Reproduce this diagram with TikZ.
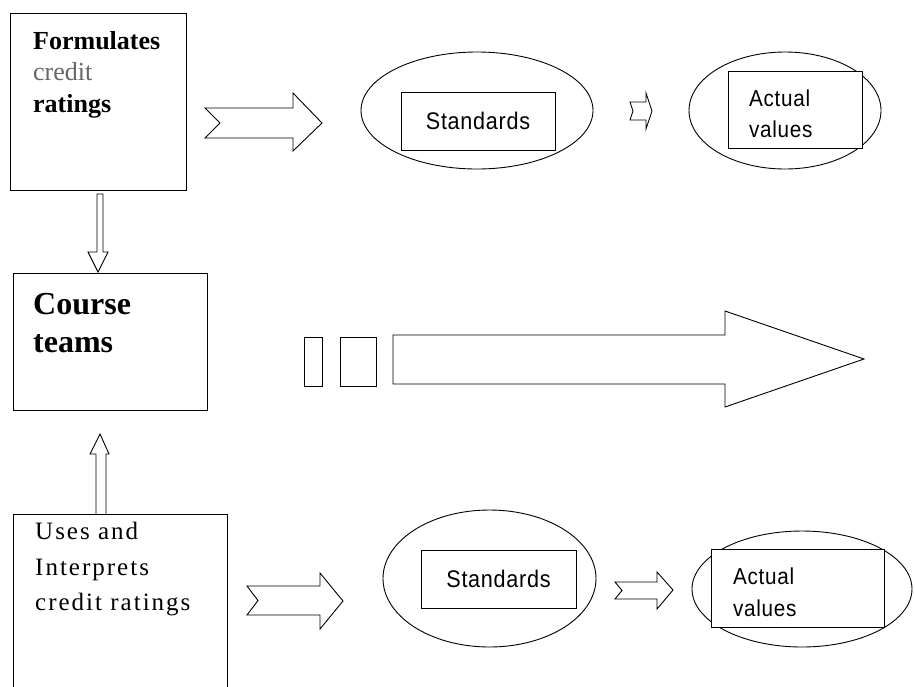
\documentclass[tikz,border=0pt]{standalone}
\usepackage{fontspec}
\setmainfont{Liberation Serif}
\newfontfamily\labelsans[FakeStretch=0.9,LetterSpace=3]{Liberation Sans}
\newfontfamily\spacedserif[LetterSpace=8]{Liberation Serif}
\usetikzlibrary{shapes.geometric}

\begin{document}
\begin{tikzpicture}[x=1pt,y=-1pt]

    \tikzset{
      box/.style={
        draw,
        line width=0.9pt,
        inner sep=0pt,
      },
      oval/.style={
        draw,
        ellipse,
        line width=0.9pt,
        inner sep=0pt,
      },
      fatarrow/.style={
        draw,
        line width=0.9pt,
        line join=miter,
      },
      boxtext/.style={
        anchor=north west,
        align=left,
        inner sep=0pt,
      },
    }
    \useasboundingbox (0,0) rectangle (915,686);
    \clip (0,0) rectangle (915,686);

	% left column
	\node[box, minimum width=176pt, minimum height=177pt] (form) at (98,101.5) {};
	\node[boxtext, font=\fontsize{26}{31.5}\selectfont\bfseries] (formtext) at (33,31)
	  {Formulates\\{\mdseries\color{black!60}credit}\\ratings};
	\node[box, minimum width=194pt, minimum height=137pt] (course) at (110,341.5) {};
	\node[boxtext, font=\fontsize{32}{38}\selectfont\bfseries] (coursetext) at (33,293)
	  {Course\\teams};
	\node[box, minimum width=214pt, minimum height=186pt] (uses) at (120,607) {};
	\node[boxtext, font=\spacedserif\fontsize{25}{35.5}\selectfont] (usestext) at (35,522)
	  {Uses and\\Interprets\\credit ratings};

	% top row
	\node[oval, minimum width=232pt, minimum height=117pt] (stdovaltop) at (477,110.5) {};
	\node[box, fill=white, minimum width=154pt, minimum height=58pt,
	  font=\labelsans\fontsize{24}{28}\selectfont] (stdtop) at (478,121) {Standards};
	\node[oval, minimum width=192pt, minimum height=117pt] (actovaltop) at (785,110.5) {};
	\node[box, fill=white, minimum width=134pt, minimum height=77pt] (acttop) at (795,109.5) {};
	\node[boxtext, font=\labelsans\fontsize{23}{31}\selectfont] (acttoptext) at (749,90)
	  {Actual\\values};

	% bottom row
	\node[oval, minimum width=213pt, minimum height=137pt] (stdovalbot) at (489.5,578.5) {};
	\node[box, fill=white, minimum width=155pt, minimum height=58pt,
	  font=\labelsans\fontsize{24}{28}\selectfont] (stdbot) at (498.5,579) {Standards};
	\node[oval, minimum width=220pt, minimum height=116pt] (actovalbot) at (802,589) {};
	\node[box, fill=white, minimum width=173pt, minimum height=78pt] (actbot) at (797.5,588) {};
	\node[boxtext, font=\labelsans\fontsize{23}{32}\selectfont] (actbottext) at (733,568)
	  {Actual\\values};

	% block arrows
	\draw[fatarrow] (205,108) -- (293,108) -- (293,93) -- (322,123) -- (293,151) -- (293,138) -- (205,138) -- (220,123) -- cycle;
	\draw[fatarrow] (630,102) -- (646,102) -- (646,93) -- (652,111) -- (646,129) -- (646,120) -- (630,120) -- (633,111) -- cycle;
	\draw[fatarrow] (247,586) -- (320,586) -- (320,573) -- (343,601) -- (320,629) -- (320,615) -- (247,615) -- (258,600.5) -- cycle;
	\draw[fatarrow] (615,582) -- (657,582) -- (657,572) -- (673,590) -- (657,609) -- (657,599) -- (615,599) -- (622,590.5) -- cycle;
	\draw[fatarrow] (97,194) -- (97,252) -- (88,252) -- (98,272) -- (108,252) -- (103,252) -- (103,194) -- cycle;
	\draw[fatarrow] (96,514) -- (96,454) -- (90,454) -- (100,434) -- (109,454) -- (106,454) -- (106,514);

	% big arrow with its two bars
	\draw[fatarrow] (304,337) rectangle (322,386);
	\draw[fatarrow] (340,337) rectangle (376,386);
	\draw[fatarrow] (393,335) -- (725,335) -- (725,311) -- (864,359) -- (725,407) -- (725,384) -- (393,384) -- cycle;

\end{tikzpicture}
\end{document}
